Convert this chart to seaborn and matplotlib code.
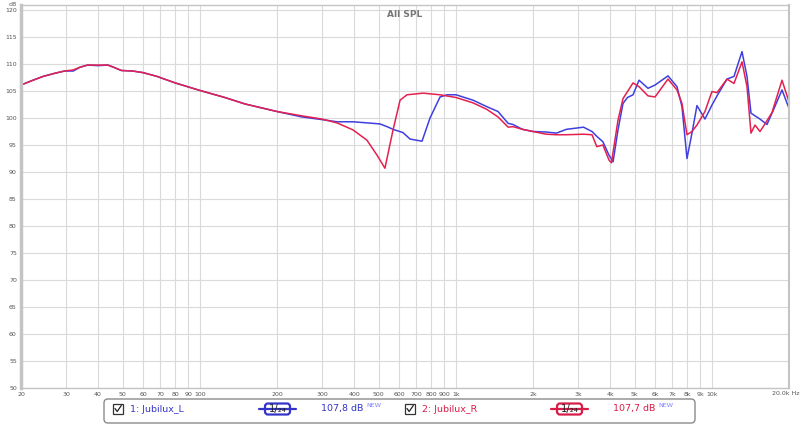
import numpy as np
import pandas as pd
import matplotlib
matplotlib.use("Agg")
import matplotlib.pyplot as plt
import seaborn as sns
from matplotlib.patches import Rectangle, FancyBboxPatch
from matplotlib.lines import Line2D

# ---------------- data ----------------
freq_L = [20, 22, 24.4, 27.2, 29.6, 32, 34, 36.4, 40, 43.7, 46, 49.3, 54.6, 60, 68, 80,
          100, 125, 150, 200, 250, 300, 343, 396, 449, 505, 538, 568, 621, 662, 737,
          792, 867, 923, 1000, 1166, 1320, 1460, 1600, 1670, 1820, 2000, 2250, 2470,
          2700, 3150, 3400, 3550, 3750, 3963, 4110, 4296, 4494, 4680, 4918, 5190, 5626,
          5994, 6735, 7303, 7637, 7990, 8356, 8740, 9392, 10003, 10468, 11448, 12195,
          13105, 13708, 14210, 14730, 15407, 16406, 17316, 18780, 20000]
spl_L = [106.1, 106.9, 107.7, 108.3, 108.7, 108.7, 109.4, 109.8, 109.7, 109.8, 109.4, 108.8,
         108.7, 108.4, 107.7, 106.5, 105.1, 103.8, 102.6, 101.2, 100.2, 99.7, 99.3, 99.3,
         99.1, 98.9, 98.4, 97.9, 97.3, 96.1, 95.7, 100.0, 103.9, 104.3, 104.3, 103.3,
         102.1, 101.2, 99.0, 98.8, 97.9, 97.5, 97.4, 97.2, 97.9, 98.3, 97.5, 96.6, 95.6,
         93.1, 91.9, 97.8, 102.7, 103.8, 104.3, 107.0, 105.5, 106.1, 107.8, 105.8, 102.1,
         92.5, 97.2, 102.3, 99.8, 102.4, 104.1, 107.2, 107.7, 112.3, 107.7, 100.9, 100.4,
         99.8, 98.8, 101.3, 105.2, 101.8]

freq_R = [20, 22, 24.4, 27.2, 29.6, 32, 34, 36.4, 40, 43.7, 46, 49.3, 54.6, 60, 68, 80,
          100, 125, 150, 200, 250, 300, 343, 396, 449, 492, 528, 568, 605, 644, 744,
          867, 1000, 1166, 1320, 1460, 1600, 1670, 1820, 2000, 2250, 2470, 2700, 3150,
          3400, 3550, 3750, 3963, 4050, 4296, 4494, 4680, 4918, 5190, 5626, 5994, 6735,
          7303, 7637, 7990, 8356, 8740, 9392, 10003, 10468, 11448, 12195, 13105, 13708,
          14210, 14730, 15407, 16112, 17160, 18780, 20000]
spl_R = [106.1, 106.9, 107.7, 108.3, 108.7, 108.9, 109.4, 109.8, 109.8, 109.8, 109.4, 108.8,
         108.7, 108.4, 107.7, 106.5, 105.1, 103.8, 102.6, 101.2, 100.4, 99.8, 99.1, 97.8,
         95.9, 93.1, 90.7, 97.8, 103.3, 104.3, 104.6, 104.3, 103.8, 102.8, 101.6, 100.2,
         98.3, 98.4, 97.9, 97.5, 97.0, 96.9, 96.9, 97.0, 96.9, 94.7, 95.0, 92.2, 91.7,
         99.6, 103.6, 104.9, 106.5, 105.8, 104.1, 103.9, 107.2, 105.2, 102.7, 96.9, 97.5,
         98.7, 101.2, 104.9, 104.7, 107.2, 106.4, 110.4, 105.8, 97.2, 98.7, 97.5, 98.9,
         101.0, 107.0, 103.0]

names = ["1: Jubilux_L", "2: Jubilux_R"]
levels = ["107,8 dB", "107,7 dB"]
x_ticks = [20, 30, 40, 50, 60, 70, 80, 90, 100, 200, 300, 400, 500, 600, 700, 800, 900,
           1000, 2000, 3000, 4000, 5000, 6000, 7000, 8000, 9000, 10000, 20000]
x_tick_labels = ["20", "30", "40", "50", "60", "70", "80", "90", "100", "200", "300",
                 "400", "500", "600", "700", "800", "900", "1k", "2k", "3k", "4k", "5k",
                 "6k", "7k", "8k", "9k", "10k", ""]
last_tick_label = "20.0k Hz"
y_ticks = list(range(50, 121, 5))

BLUE = "#3f3fe0"
RED = "#e3204e"

df = pd.concat([
    pd.DataFrame({"freq": freq_L, "spl": spl_L, "ch": names[0]}),
    pd.DataFrame({"freq": freq_R, "spl": spl_R, "ch": names[1]}),
], ignore_index=True)

sns.set_style("white")
plt.rcParams["font.family"] = ["DejaVu Sans"]

fig = plt.figure(figsize=(8, 4.25), dpi=100)
ax = fig.add_axes([21 / 800, (425 - 388) / 425, 768 / 800, (388 - 4.6) / 425])

sns.lineplot(data=df, x="freq", y="spl", hue="ch", palette={names[0]: BLUE, names[1]: RED},
             ax=ax, lw=1.1, legend=False, sort=False, estimator=None)

ax.set_xscale("log")
ax.set_xlim(20, 20000)
ax.set_ylim(50, 121)
ax.set_xticks(x_ticks)
ax.set_xticklabels(x_tick_labels)
ax.xaxis.set_minor_locator(matplotlib.ticker.NullLocator())
ax.set_yticks(y_ticks)
ax.set_yticklabels([str(v) for v in y_ticks])
ax.tick_params(axis="both", length=0, labelsize=4.5, labelcolor="#555555")
ax.tick_params(axis="x", pad=3)
ax.tick_params(axis="y", pad=3)
ax.grid(True, color="#dadada", lw=0.8)
ax.set_xlabel("")
ax.set_ylabel("")
for side, sp in ax.spines.items():
    sp.set_color("#c4c4c4")
    sp.set_linewidth(1.0)
ax.spines["left"].set_linewidth(2.5)
ax.spines["right"].set_linewidth(1.5)
ax.text(0.5, 0.985, "All SPL", transform=ax.transAxes, ha="center", va="top",
        fontsize=6.5, fontweight="bold", color="#777777")

# overlay in pixel coordinates for labels and legend box
ov = fig.add_axes([0, 0, 1, 1], facecolor="none")
ov.set_xlim(0, 800)
ov.set_ylim(425, 0)
ov.axis("off")
ov.text(13, 4, "dB", fontsize=4.5, color="#555555", ha="center", va="center")
ov.text(799, 393.5, last_tick_label, fontsize=4.5, color="#555555", ha="right", va="center")

ov.add_patch(FancyBboxPatch((104, 399), 591, 24, boxstyle="round,pad=0,rounding_size=4",
                            fc="white", ec="#8a8a8a", lw=1.0))

def legend_entry(x0, name, level, color):
    # checkbox
    ov.add_patch(Rectangle((x0, 404), 9.5, 9.5, fc="white", ec="#333333", lw=0.9))
    ov.add_line(Line2D([x0 + 2, x0 + 4.2, x0 + 8.3], [408.5, 411.5, 405.5],
                       color="#222222", lw=0.9))
    ov.text(x0 + 17, 409, name, fontsize=6.8, color=color, ha="left", va="center")
    # 1/24 smoothing box
    bx = x0 + 152
    ov.add_line(Line2D([bx - 6, bx + 31], [409, 409], color=color, lw=1.6))
    ov.add_patch(FancyBboxPatch((bx, 403.5), 25, 11, boxstyle="round,pad=0,rounding_size=3",
                                fc="white", ec=color, lw=1.6))
    ov.text(bx + 12.5, 409, "1/\u2082\u2084", fontsize=7.2, color="#222222",
            ha="center", va="center")
    ov.text(x0 + 208, 409, level, fontsize=6.8, color=color, ha="left", va="center")
    ov.text(x0 + 253, 405.5, "NEW", fontsize=4.6, color="#8080ff", ha="left", va="center")

legend_entry(113, names[0], levels[0], "#3434c8")
legend_entry(405, names[1], levels[1], "#d81c48")

fig.savefig("out.png", dpi=100)
